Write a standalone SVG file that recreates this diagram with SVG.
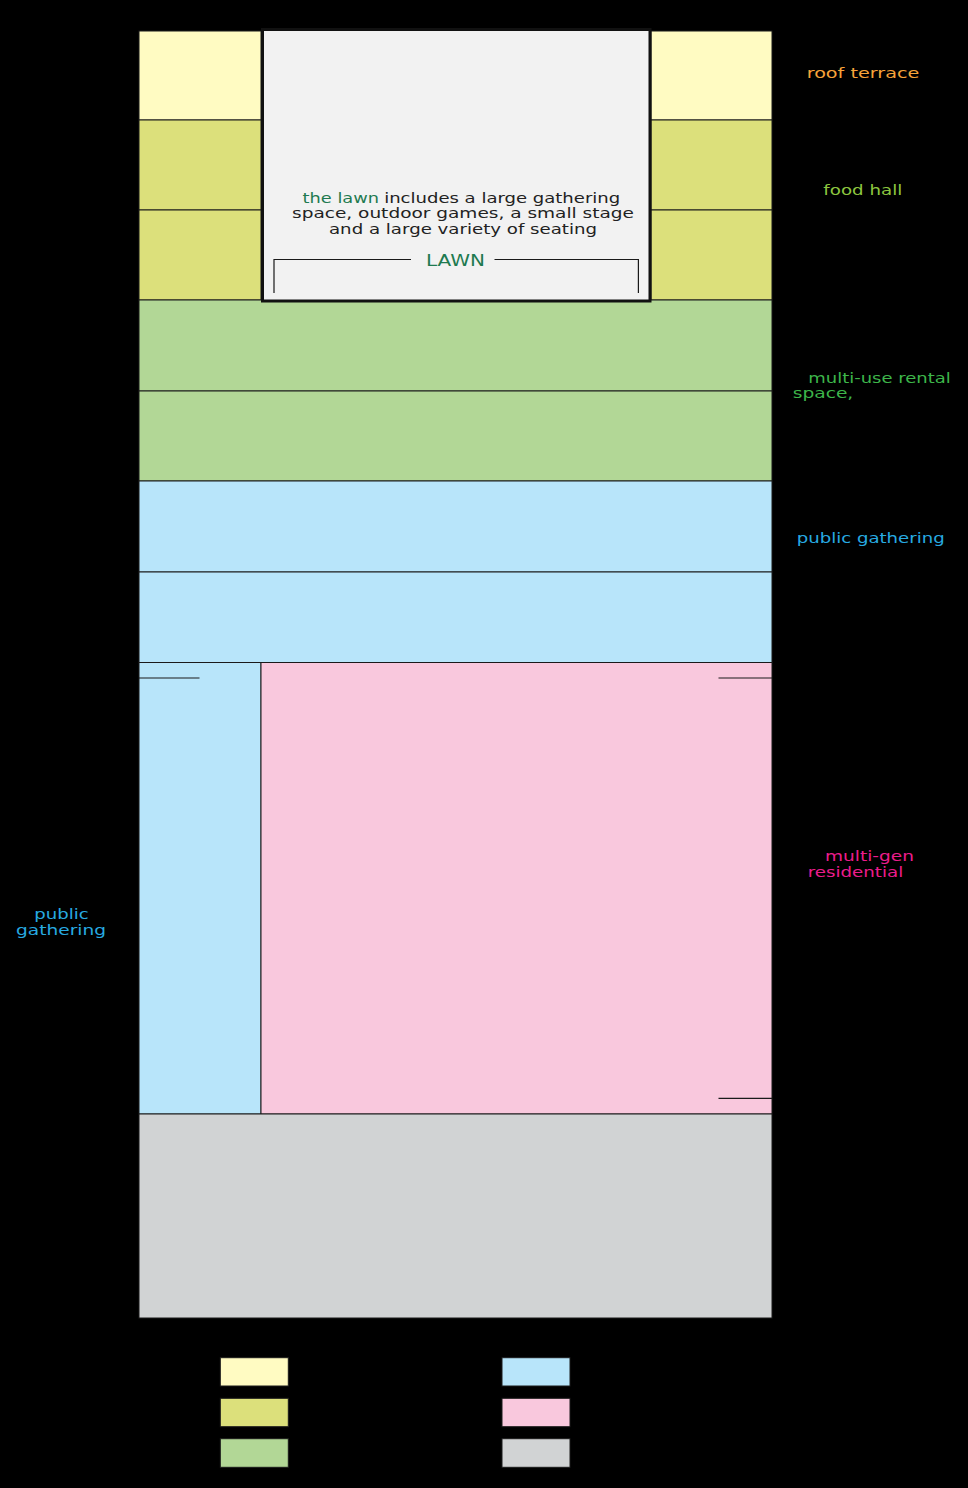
<svg xmlns="http://www.w3.org/2000/svg" width="968" height="1488" viewBox="0 0 968 1488">
<style>
.cell{stroke:#1a1a1a;stroke-width:1}
.ly{fill:#FFFBC2}.yg{fill:#DCE07B}.gr{fill:#B2D796}.bl{fill:#B8E5FA}.pk{fill:#F9C8DD}.gy{fill:#D1D3D4}
.ln{stroke:#1a1a1a;stroke-width:1.2;fill:none}
.lbl{font-family:"DejaVu Sans",sans-serif;font-size:14px}
.body{font-family:"DejaVu Sans",sans-serif;font-size:14px;fill:#222}
.lawn{fill:#1E7A50}
</style>
<rect x="0" y="0" width="968" height="1488" fill="#000"/>
<g id="roof-terrace">
<rect class="cell ly" x="139" y="31" width="122" height="89"/>
<rect class="cell ly" x="651" y="31" width="121" height="89"/>
</g>
<g id="food-hall">
<rect class="cell yg" x="139" y="120" width="122" height="90"/>
<rect class="cell yg" x="651" y="120" width="121" height="90"/>
<rect class="cell yg" x="139" y="210" width="122" height="90"/>
<rect class="cell yg" x="651" y="210" width="121" height="90"/>
</g>
<g id="multi-use">
<rect class="cell gr" x="139" y="300" width="633" height="91"/>
<rect class="cell gr" x="139" y="391" width="633" height="90"/>
</g>
<g id="public-gathering-top">
<rect class="cell bl" x="139" y="481" width="633" height="91"/>
<rect class="cell bl" x="139" y="572" width="633" height="90.5"/>
</g>
<g id="public-gathering-side">
<rect class="cell bl" x="139" y="662.5" width="122" height="451.5"/>
</g>
<g id="multi-gen-residential">
<rect class="cell pk" x="261" y="662.5" width="511" height="451.5"/>
</g>
<g id="base">
<rect class="cell gy" x="139" y="1114" width="633" height="204"/>
</g>
<g id="lawn-box">
<rect x="262.5" y="29.5" width="387.5" height="271.5" fill="#F2F2F2" stroke="#111" stroke-width="3"/>
<text class="body lawn" x="302.6" y="202.5" textLength="76.4" lengthAdjust="spacingAndGlyphs">the lawn</text>
<text class="body" x="384.2" y="202.5" textLength="236" lengthAdjust="spacingAndGlyphs">includes a large gathering</text>
<text class="body" x="292" y="218" textLength="342" lengthAdjust="spacingAndGlyphs">space, outdoor games, a small stage</text>
<text class="body" x="329" y="233.5" textLength="268" lengthAdjust="spacingAndGlyphs">and a large variety of seating</text>
<path class="ln" d="M274,293 V259.5 H411 M494.5,259.5 H638.4 V293"/>
<text class="lawn" x="426" y="266" textLength="59" lengthAdjust="spacingAndGlyphs" style="font-family:'DejaVu Sans',sans-serif;font-size:15px">LAWN</text>
</g>
<g id="connectors">
<line class="ln" x1="139" y1="678" x2="199.5" y2="678"/>
<line class="ln" x1="718.5" y1="678" x2="772" y2="678"/>
<line class="ln" x1="718.5" y1="1098.3" x2="772" y2="1098.3"/>
</g>
<g id="labels">
<text class="lbl" fill="#F7A33A" x="806.7" y="78.3" textLength="112.6" lengthAdjust="spacingAndGlyphs">roof terrace</text>
<text class="lbl" fill="#8DC63F" x="823.3" y="195.3" textLength="79" lengthAdjust="spacingAndGlyphs">food hall</text>
<text class="lbl" fill="#3DB54A" x="808.3" y="382.7" textLength="142.4" lengthAdjust="spacingAndGlyphs">multi-use rental</text>
<text class="lbl" fill="#3DB54A" x="792.7" y="398.3" textLength="60.6" lengthAdjust="spacingAndGlyphs">space,</text>
<text class="lbl" fill="#27AAE1" x="796.7" y="543.3" textLength="148" lengthAdjust="spacingAndGlyphs">public gathering</text>
<text class="lbl" fill="#EC1C8C" x="825" y="861" textLength="89" lengthAdjust="spacingAndGlyphs">multi-gen</text>
<text class="lbl" fill="#EC1C8C" x="807.7" y="876.7" textLength="95.6" lengthAdjust="spacingAndGlyphs">residential</text>
<text class="lbl" fill="#27AAE1" x="34.3" y="919" textLength="54.4" lengthAdjust="spacingAndGlyphs">public</text>
<text class="lbl" fill="#27AAE1" x="16" y="935" textLength="90" lengthAdjust="spacingAndGlyphs">gathering</text>
</g>
<g id="legend">
<rect class="cell ly" x="220.3" y="1357.7" width="68" height="28.3"/>
<rect class="cell yg" x="220.3" y="1398.3" width="68" height="28.4"/>
<rect class="cell gr" x="220.3" y="1438.7" width="68" height="28.6"/>
<rect class="cell bl" x="502" y="1357.7" width="68" height="28.3"/>
<rect class="cell pk" x="502" y="1398.3" width="68" height="28.4"/>
<rect class="cell gy" x="502" y="1438.7" width="68" height="28.6"/>
</g>
</svg>
